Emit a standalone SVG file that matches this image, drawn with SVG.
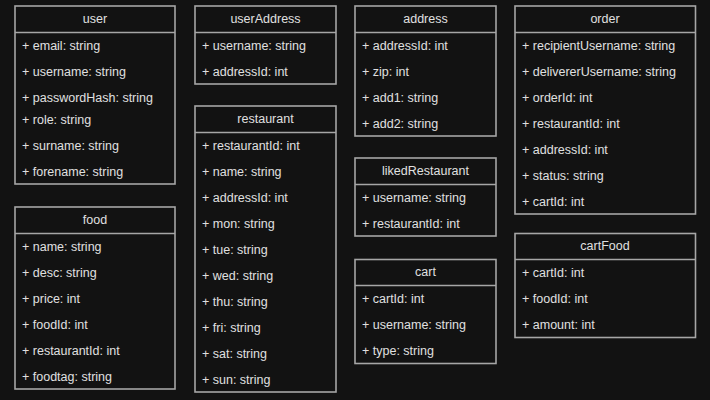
<svg xmlns="http://www.w3.org/2000/svg" width="710" height="400" viewBox="0 0 710 400">
<style>
.box{fill:#121212;stroke:#a6a6a6;stroke-width:1.6}
.sep{stroke:#a6a6a6;stroke-width:1.6}
.h{font-family:"Liberation Sans",Arial,sans-serif;font-size:12.5px;fill:#e0e0e0;text-anchor:middle;dominant-baseline:central}
.a{font-family:"Liberation Sans",Arial,sans-serif;font-size:12.5px;fill:#e0e0e0;dominant-baseline:central}
</style>
<rect width="710" height="400" fill="#121212"/>
<g id="connectors"/>
<g id="user">
<rect class="box" x="15" y="6" width="160" height="178"/>
<line class="sep" x1="15" y1="32.5" x2="175" y2="32.5"/>
<text class="h" x="95" y="19">user</text>
<text class="a" x="22" y="46">+ email: string</text>
<text class="a" x="22" y="72">+ username: string</text>
<text class="a" x="22" y="98">+ passwordHash: string</text>
<text class="a" x="22" y="120">+ role: string</text>
<text class="a" x="22" y="146">+ surname: string</text>
<text class="a" x="22" y="172">+ forename: string</text>
</g>
<g id="food">
<rect class="box" x="15" y="207" width="160" height="182"/>
<line class="sep" x1="15" y1="233.5" x2="175" y2="233.5"/>
<text class="h" x="95" y="220">food</text>
<text class="a" x="22" y="247">+ name: string</text>
<text class="a" x="22" y="273">+ desc: string</text>
<text class="a" x="22" y="299">+ price: int</text>
<text class="a" x="22" y="325">+ foodId: int</text>
<text class="a" x="22" y="351">+ restaurantId: int</text>
<text class="a" x="22" y="377">+ foodtag: string</text>
</g>
<g id="userAddress">
<rect class="box" x="195" y="6" width="141" height="78"/>
<line class="sep" x1="195" y1="32.5" x2="336" y2="32.5"/>
<text class="h" x="265.5" y="19">userAddress</text>
<text class="a" x="202" y="46">+ username: string</text>
<text class="a" x="202" y="72">+ addressId: int</text>
</g>
<g id="restaurant">
<rect class="box" x="195" y="106" width="141" height="286"/>
<line class="sep" x1="195" y1="132.5" x2="336" y2="132.5"/>
<text class="h" x="265.5" y="119">restaurant</text>
<text class="a" x="202" y="146">+ restaurantId: int</text>
<text class="a" x="202" y="172">+ name: string</text>
<text class="a" x="202" y="198">+ addressId: int</text>
<text class="a" x="202" y="224">+ mon: string</text>
<text class="a" x="202" y="250">+ tue: string</text>
<text class="a" x="202" y="276">+ wed: string</text>
<text class="a" x="202" y="302">+ thu: string</text>
<text class="a" x="202" y="328">+ fri: string</text>
<text class="a" x="202" y="354">+ sat: string</text>
<text class="a" x="202" y="380">+ sun: string</text>
</g>
<g id="address">
<rect class="box" x="355" y="6" width="141" height="130"/>
<line class="sep" x1="355" y1="32.5" x2="496" y2="32.5"/>
<text class="h" x="425.5" y="19">address</text>
<text class="a" x="362" y="46">+ addressId: int</text>
<text class="a" x="362" y="72">+ zip: int</text>
<text class="a" x="362" y="98">+ add1: string</text>
<text class="a" x="362" y="124">+ add2: string</text>
</g>
<g id="likedRestaurant">
<rect class="box" x="355" y="158" width="141" height="78"/>
<line class="sep" x1="355" y1="184.5" x2="496" y2="184.5"/>
<text class="h" x="425.5" y="171">likedRestaurant</text>
<text class="a" x="362" y="198">+ username: string</text>
<text class="a" x="362" y="224">+ restaurantId: int</text>
</g>
<g id="cart">
<rect class="box" x="355" y="259.5" width="141" height="104"/>
<line class="sep" x1="355" y1="285.5" x2="496" y2="285.5"/>
<text class="h" x="425.5" y="272">cart</text>
<text class="a" x="362" y="299">+ cartId: int</text>
<text class="a" x="362" y="325">+ username: string</text>
<text class="a" x="362" y="351">+ type: string</text>
</g>
<g id="order">
<rect class="box" x="515" y="6" width="180.5" height="208"/>
<line class="sep" x1="515" y1="32.5" x2="695.5" y2="32.5"/>
<text class="h" x="605" y="19">order</text>
<text class="a" x="522" y="46">+ recipientUsername: string</text>
<text class="a" x="522" y="72">+ delivererUsername: string</text>
<text class="a" x="522" y="98">+ orderId: int</text>
<text class="a" x="522" y="124">+ restaurantId: int</text>
<text class="a" x="522" y="150">+ addressId: int</text>
<text class="a" x="522" y="176">+ status: string</text>
<text class="a" x="522" y="202">+ cartId: int</text>
</g>
<g id="cartFood">
<rect class="box" x="515" y="233.5" width="180.5" height="104"/>
<line class="sep" x1="515" y1="259.5" x2="695.5" y2="259.5"/>
<text class="h" x="605" y="246">cartFood</text>
<text class="a" x="522" y="273">+ cartId: int</text>
<text class="a" x="522" y="299">+ foodId: int</text>
<text class="a" x="522" y="325">+ amount: int</text>
</g>
</svg>
